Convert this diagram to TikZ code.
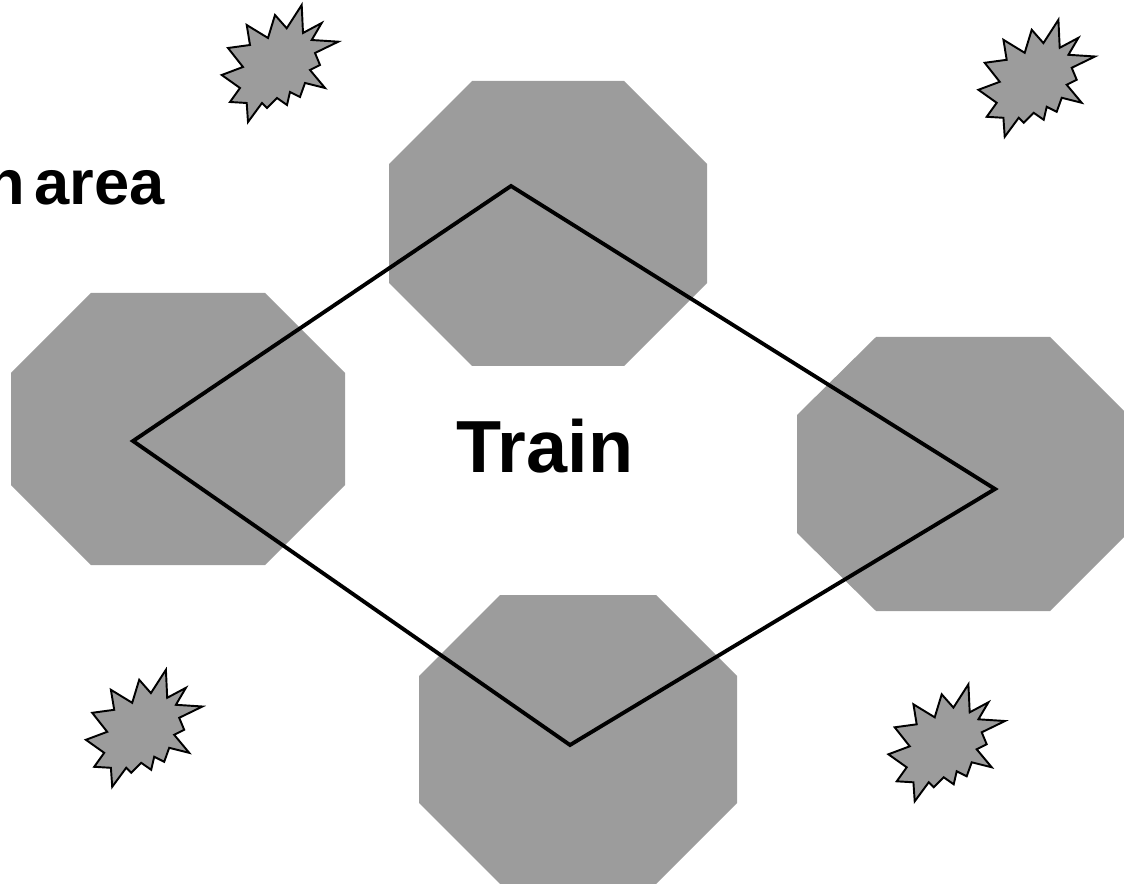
\documentclass[tikz,border=0pt]{standalone}
\usepackage{fontspec}
\setmainfont{Liberation Sans}
\usepackage{tikz}
\usetikzlibrary{calc}
\definecolor{blockgray}{RGB}{156,156,156}

\tikzset{
    block/.style={fill=blockgray, draw=none},
    track/.style={line width=2.2pt, black, line join=miter},
    burstline/.style={fill=blockgray, draw=black, line width=1.1pt, line join=miter},
    label/.style={font=\fontsize{42}{42}\selectfont\bfseries, inner sep=0pt},
    sidelabel/.style={font=\fontsize{36}{36}\selectfont\bfseries, inner sep=0pt},
    burst/.pic={
        \draw[burstline] (21.7,-58.5) -- (23,-30.5) -- (41.7,-40.5) -- (31.7,-23.5) -- (58.3,-21.8)
            -- (35,-10.5) -- (40,1.5) -- (30,6.5) -- (45,24.5) -- (25,19.5) -- (20,33.5) -- (10,28.5)
            -- (7,41.5) -- (-3,34.5) -- (-13,44.5) -- (-18,39.5) -- (-32,58.5) -- (-33.3,39.5)
            -- (-50,38.5) -- (-40,24.5) -- (-58.3,11.5) -- (-37,3.5) -- (-52,-15.5) -- (-30,-18.5)
            -- (-33.3,-38.5) -- (-12,-25.5) -- (-5,-48.5) -- (6.7,-35.2) -- cycle;
    }
}

\begin{document}
\begin{tikzpicture}[x=0.02cm, y=-0.02cm]

    \useasboundingbox (0,0) rectangle (1124,884);
    \clip (0,0) rectangle (1124,884);

    % stations
    \fill[block] (472,81) -- (624,81) -- (707,164) -- (707,283) -- (624,366) -- (472,366) -- (389,283) -- (389,164) -- cycle;
    \fill[block] (91,293) -- (265,293) -- (345,373) -- (345,485) -- (265,565) -- (91,565) -- (11,485) -- (11,373) -- cycle;
    \fill[block] (876,337) -- (1050,337) -- (1128,415) -- (1128,533) -- (1050,611) -- (876,611) -- (797,533) -- (797,415) -- cycle;
    \fill[block] (500,595) -- (656,595) -- (737,676) -- (737,803) -- (656,884) -- (500,884) -- (419,803) -- (419,676) -- cycle;

    % track
    \coordinate (top) at (511,186);
    \coordinate (right) at (995,489);
    \coordinate (bottom) at (570,745);
    \coordinate (left) at (133,441);
    \draw[track] (top) -- (right) -- (bottom) -- (left) -- cycle;

    \node[label, anchor=base] (train) at (545,472) {Train};
    \node[sidelabel, anchor=base east] (area) at (165,205) {\spaceskip=0.15em\relax Train area};

    % sparks
    \pic at (280,63.5) {burst};
    \pic at (1036.7,78.3) {burst};
    \pic at (144.2,728.3) {burst};
    \pic at (946.7,742.8) {burst};

\end{tikzpicture}
\end{document}
